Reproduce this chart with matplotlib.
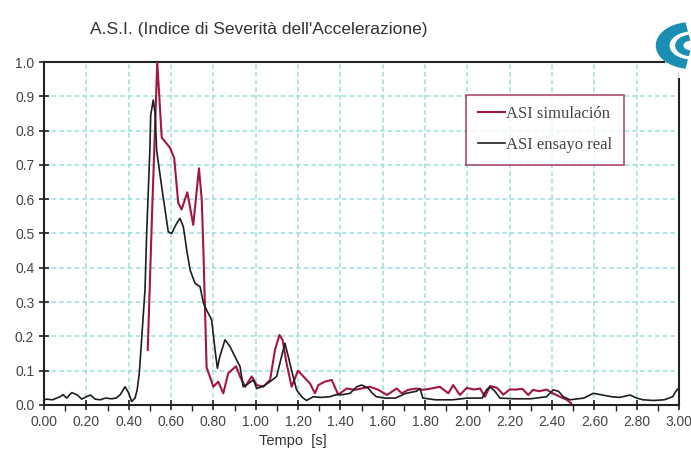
import matplotlib
matplotlib.use('Agg')
import matplotlib.pyplot as plt
from matplotlib.patches import Wedge

# ASI simulation (red)
sim_t = [0.49, 0.51, 0.535, 0.556, 0.595, 0.615, 0.634, 0.65, 0.677, 0.705, 0.732, 0.745,
         0.753, 0.768, 0.80, 0.823, 0.847, 0.87, 0.907, 0.926, 0.95, 0.981, 1.005, 1.036,
         1.068, 1.091, 1.112, 1.127, 1.146, 1.17, 1.20, 1.233, 1.256, 1.28, 1.296, 1.327,
         1.359, 1.39, 1.43, 1.469, 1.50, 1.54, 1.58, 1.62, 1.666, 1.69, 1.72, 1.76, 1.79,
         1.83, 1.87, 1.91, 1.933, 1.965, 1.997, 2.03, 2.06, 2.083, 2.107, 2.14, 2.17, 2.20,
         2.23, 2.26, 2.288, 2.31, 2.34, 2.374, 2.40, 2.437, 2.47, 2.49]
sim_asi = [0.16, 0.55, 1.00, 0.78, 0.75, 0.72, 0.59, 0.57, 0.62, 0.525, 0.69, 0.60,
           0.45, 0.11, 0.053, 0.068, 0.034, 0.092, 0.113, 0.083, 0.053, 0.083, 0.058, 0.053,
           0.073, 0.16, 0.204, 0.19, 0.121, 0.053, 0.10, 0.078, 0.063, 0.034, 0.058, 0.068,
           0.073, 0.03, 0.048, 0.044, 0.048, 0.053, 0.044, 0.029, 0.048, 0.034, 0.044, 0.048, 0.044,
           0.048, 0.053, 0.034, 0.058, 0.029, 0.05, 0.045, 0.048, 0.024, 0.055, 0.05, 0.03, 0.045,
           0.045, 0.047, 0.029, 0.044, 0.04, 0.045, 0.035, 0.024, 0.015, 0.005]

# ASI real test (black)
real_t = [0.0, 0.013, 0.04, 0.076, 0.09, 0.107, 0.131, 0.155, 0.178, 0.20, 0.22, 0.241,
          0.265, 0.29, 0.32, 0.34, 0.359, 0.383, 0.40, 0.414, 0.43, 0.44, 0.45, 0.461,
          0.477, 0.485, 0.50, 0.504, 0.516, 0.525, 0.532, 0.545, 0.556, 0.572, 0.587, 0.603,
          0.627, 0.642, 0.658, 0.67, 0.674, 0.69, 0.713, 0.737, 0.753, 0.768, 0.792, 0.808,
          0.819, 0.83, 0.855, 0.879, 0.902, 0.926, 0.941, 0.96, 0.989, 1.005, 1.036, 1.068,
          1.099, 1.122, 1.138, 1.154, 1.17, 1.193, 1.217, 1.24, 1.272, 1.31, 1.35, 1.38,
          1.41, 1.446, 1.477, 1.50, 1.53, 1.55, 1.57, 1.61, 1.66, 1.71, 1.76, 1.776, 1.79,
          1.85, 1.93, 2.0, 2.07, 2.09, 2.107, 2.13, 2.154, 2.22, 2.30, 2.374, 2.406, 2.43,
          2.453, 2.485, 2.55, 2.595, 2.63, 2.68, 2.72, 2.768, 2.80, 2.83, 2.88, 2.93, 2.97,
          2.985, 3.0]
real_asi = [0.015, 0.017, 0.015, 0.024, 0.03, 0.02, 0.036, 0.03, 0.017, 0.024, 0.029, 0.017,
            0.015, 0.02, 0.018, 0.02, 0.029, 0.053, 0.035, 0.01, 0.02, 0.044, 0.092, 0.19,
            0.335, 0.50, 0.743, 0.845, 0.889, 0.85, 0.743, 0.685, 0.636, 0.568, 0.505, 0.50,
            0.53, 0.544, 0.52, 0.47, 0.452, 0.394, 0.355, 0.345, 0.297, 0.277, 0.248, 0.16,
            0.107, 0.14, 0.19, 0.17, 0.141, 0.112, 0.053, 0.06, 0.073, 0.048, 0.055, 0.068,
            0.083, 0.141, 0.18, 0.141, 0.10, 0.044, 0.024, 0.013, 0.024, 0.022, 0.024, 0.03,
            0.03, 0.034, 0.053, 0.058, 0.05, 0.035, 0.024, 0.02, 0.02, 0.034, 0.04, 0.048, 0.02,
            0.015, 0.015, 0.02, 0.02, 0.044, 0.053, 0.04, 0.02, 0.018, 0.018, 0.024, 0.044, 0.04,
            0.024, 0.015, 0.02, 0.034, 0.03, 0.024, 0.022, 0.029, 0.02, 0.015, 0.013, 0.015, 0.024,
            0.04, 0.05]

x_ticks = [0.0, 0.2, 0.4, 0.6, 0.8, 1.0, 1.2, 1.4, 1.6, 1.8, 2.0, 2.2, 2.4, 2.6, 2.8, 3.0]
y_ticks = [0.0, 0.1, 0.2, 0.3, 0.4, 0.5, 0.6, 0.7, 0.8, 0.9, 1.0]

plt.rcParams['font.family'] = 'Liberation Sans'

fig = plt.figure(figsize=(6.91, 4.55), dpi=100)
ax = fig.add_axes([0.0637, 0.11, 0.919, 0.7537])

ax.plot(sim_t, sim_asi, color='#a3163f', lw=1.5, label='ASI simulación', zorder=3)
ax.plot(real_t, real_asi, color='#1e1e1e', lw=1.2, label='ASI ensayo real', zorder=3)

ax.set_xlim(0, 3.0)
ax.set_ylim(0, 1.0)
ax.set_xticks(x_ticks)
ax.set_xticklabels([f'{v:.2f}' for v in x_ticks])
ax.set_xticks([v + 0.1 for v in x_ticks[:-1]], minor=True)
ax.set_yticks(y_ticks)
ax.set_yticklabels([f'{v:.1f}' for v in y_ticks])
ax.tick_params(axis='both', which='major', labelsize=10, labelcolor='#444444',
               direction='inout', length=7, width=1.2, color='#222222')
ax.tick_params(axis='x', which='minor', direction='out', length=4, width=1.0, color='#222222')
ax.grid(True, color='#9fdcdc', linestyle=(0, (3, 2)), linewidth=1.1, zorder=1)

for s in ax.spines.values():
    s.set_color('#222222')
    s.set_linewidth(1.5)
ax.spines['top'].set_bounds(0, 2.93)
ax.spines['right'].set_bounds(0, 0.95)

fig.text(0.13, 0.935, "A.S.I. (Indice di Severità dell'Accelerazione)", fontsize=12.5,
         color='#333333', ha='left', va='center')
fig.text(0.424, 0.015, 'Tempo  [s]', fontsize=10.5, color='#333333', ha='center', va='bottom')

leg = ax.legend(loc='upper left', bbox_to_anchor=(0.665, 0.905), frameon=True, fancybox=False,
                prop={'family': 'Liberation Serif', 'size': 12}, handlelength=1.6,
                handletextpad=0.1, borderpad=0.7, labelspacing=0.9, borderaxespad=0)
leg.get_frame().set_edgecolor('#9b2050')
leg.get_frame().set_linewidth(1.2)
for t in leg.get_texts():
    t.set_color('#444444')

# partial logo top right
fig.patches.append(Wedge((1.0, 0.90), 0.05, 100, 260, width=0.018, color='#1b8fb3',
                         transform=fig.transFigure, figure=fig))
fig.patches.append(Wedge((1.0, 0.90), 0.022, 100, 260, width=0.01, color='#1b8fb3',
                         transform=fig.transFigure, figure=fig))

fig.savefig('out.png', dpi=100)
